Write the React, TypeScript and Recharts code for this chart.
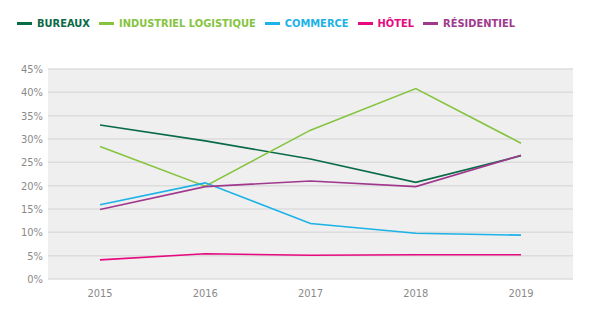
import React from 'react';
import { LineChart, Line, XAxis, YAxis, CartesianGrid } from 'recharts';

const years = ['2015', '2016', '2017', '2018', '2019'];
const bureaux = [33, 29.6, 25.7, 20.7, 26.4];
const industriel = [28.4, 19.9, 31.9, 40.8, 29.1];
const commerce = [15.9, 20.6, 11.9, 9.8, 9.4];
const hotel = [4.1, 5.4, 5.1, 5.2, 5.2];
const residentiel = [14.9, 19.8, 21.0, 19.8, 26.5];
const yTicks = [0, 5, 10, 15, 20, 25, 30, 35, 40, 45];

const series = [
  { key: 'bureaux', name: 'BUREAUX', color: '#0a6b47', values: bureaux },
  { key: 'industriel', name: 'INDUSTRIEL LOGISTIQUE', color: '#86c440', values: industriel },
  { key: 'commerce', name: 'COMMERCE', color: '#1cb2e8', values: commerce },
  { key: 'hotel', name: 'HÔTEL', color: '#e6097f', values: hotel },
  { key: 'residentiel', name: 'RÉSIDENTIEL', color: '#a0398d', values: residentiel },
];

const data = years.map((year, i) => {
  const row: Record<string, string | number> = { year };
  series.forEach(s => { row[s.key] = s.values[i]; });
  return row;
});

const narrow = "'Liberation Sans Narrow', 'DejaVu Sans Condensed', sans-serif";

const ChartLegend = () => (
  <div style={{ position: 'absolute', left: 17, top: 17, display: 'flex', alignItems: 'center', whiteSpace: 'nowrap', fontFamily: narrow, fontWeight: 700, fontSize: 11 }}>
    {series.map(s => (
      <div key={s.key} style={{ display: 'flex', alignItems: 'center', marginRight: 9 }}>
        <span style={{ display: 'inline-block', width: 15, height: 3, background: s.color, marginRight: 5 }} />
        <span style={{ color: s.color }}>{s.name}</span>
      </div>
    ))}
  </div>
);

export default function App() {
  return (
    <div style={{ position: 'absolute', left: 0, top: 0, width: 605, height: 320, background: '#fff' }}>
      <ChartLegend />
      <LineChart width={605} height={320} data={data} margin={{ top: 69, right: 32, bottom: 11, left: 0 }}>
        <CartesianGrid vertical={false} fill="#efefef" stroke="#dcdcdc" strokeWidth={1.5} />
        <XAxis
          dataKey="year"
          axisLine={false}
          tickLine={false}
          tickSize={0}
          tickMargin={10}
          height={30}
          interval={0}
          padding={{ left: 52, right: 52 }}
          tick={{ fill: '#8a8a8a', fontSize: 11, fontFamily: narrow }}
        />
        <YAxis
          domain={[0, 45]}
          ticks={yTicks}
          interval={0}
          width={48}
          axisLine={false}
          tickLine={false}
          tickSize={0}
          tickMargin={5}
          tickFormatter={(v: number) => `${v}%`}
          tick={{ fill: '#8a8a8a', fontSize: 11, fontFamily: narrow }}
        />
        {series.map(s => (
          <Line
            key={s.key}
            dataKey={s.key}
            name={s.name}
            stroke={s.color}
            strokeWidth={1.6}
            dot={false}
            type="linear"
            isAnimationActive={false}
          />
        ))}
      </LineChart>
    </div>
  );
}
